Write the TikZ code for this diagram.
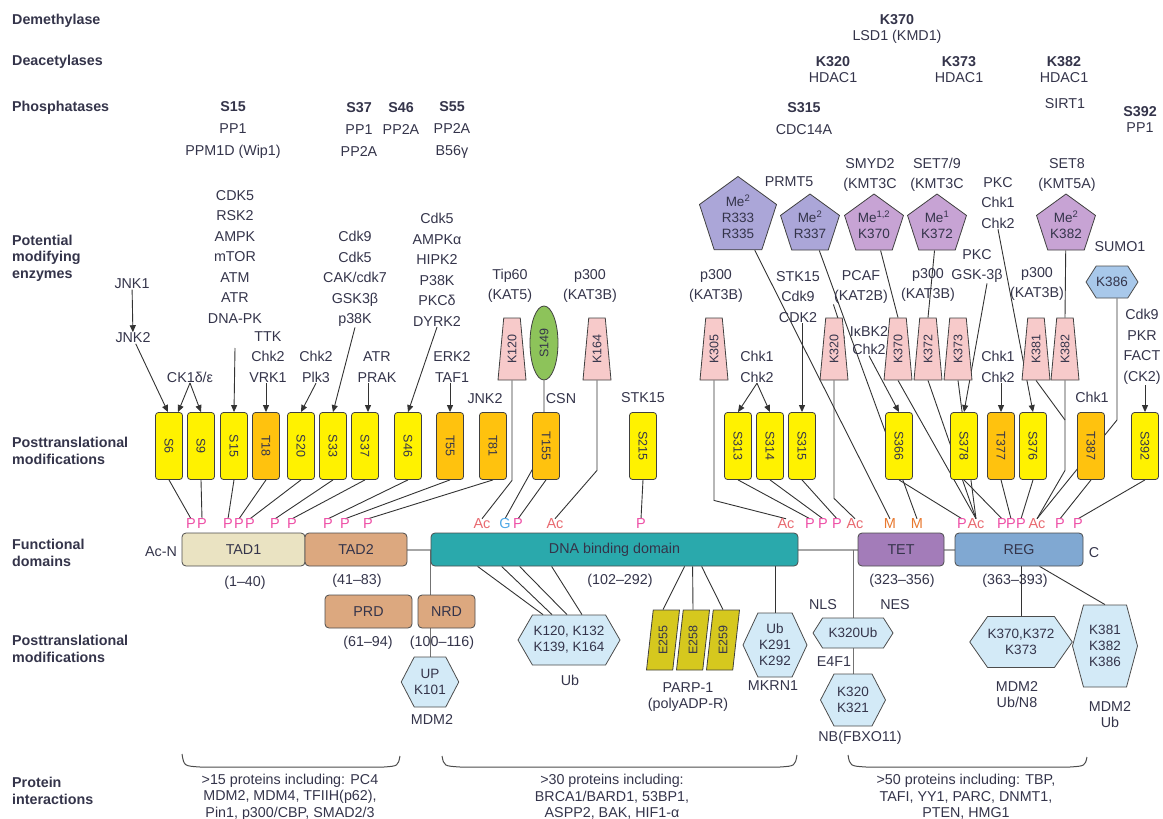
\documentclass[tikz,border=0pt]{standalone}
\usepackage{fontspec}
\setmainfont{Liberation Sans}
\usepackage{graphicx}
\usetikzlibrary{shapes.geometric,shapes.symbols,arrows.meta,backgrounds}
\definecolor{ink}{HTML}{34344A}
\definecolor{sitey}{HTML}{FFF200}
\definecolor{siteo}{HTML}{FFC20E}
\definecolor{acpink}{HTML}{F7CACA}
\definecolor{glcgreen}{HTML}{8DC35A}
\definecolor{hexblue}{HTML}{D3EAF7}
\definecolor{sumoblue}{HTML}{A8C8EA}
\definecolor{mer}{HTML}{ABA6D8}
\definecolor{mek}{HTML}{C7A3D4}
\definecolor{parpol}{HTML}{D6C81E}
\definecolor{pmag}{HTML}{EE4FA6}
\definecolor{acred}{HTML}{E86A70}
\definecolor{meor}{HTML}{E8782E}
\definecolor{glblue}{HTML}{4FA8E6}
\definecolor{tadone}{HTML}{EAE3C2}
\definecolor{tadtwo}{HTML}{DCA87F}
\definecolor{dbdteal}{HTML}{2AA9AC}
\definecolor{tetpur}{HTML}{A37CB9}
\definecolor{regblue}{HTML}{80A8D2}
\newcommand{\lblfont}{\fontsize{14.3}{16}\selectfont}
\newcommand{\stackfont}{\fontsize{14.3}{20.5}\selectfont}
\newcommand{\phfont}{\fontsize{14.3}{22}\selectfont}
\newcommand{\hdrfont}{\bfseries\fontsize{14.3}{16.5}\selectfont}
\newcommand{\sitefont}{\fontsize{12.5}{14}\selectfont}
\newcommand{\hexfont}{\fontsize{13.5}{16}\selectfont}

\begin{document}
\begin{tikzpicture}[x=1pt, y=-1pt,
    lbl/.style={font=\lblfont, text=ink, inner sep=0.5pt, align=center},
    stack/.style={lbl, font=\stackfont},
    ph/.style={lbl, font=\phfont},
    hdr/.style={font=\hdrfont, text=ink, anchor=west, align=left, inner sep=0pt},
    site/.style={rectangle, rounded corners=3pt, draw=black!75, line width=0.8pt, fill=sitey,
                 minimum width=27pt, minimum height=67pt, inner sep=0pt, font=\sitefont, text=ink},
    tsite/.style={site, fill=siteo},
    acsite/.style={trapezium, trapezium left angle=84, trapezium right angle=84, trapezium stretches=true,
                 draw=black!75, line width=0.8pt, fill=acpink, minimum width=28pt, minimum height=62pt,
                 inner sep=0pt, font=\sitefont, text=ink},
    parp/.style={trapezium, trapezium left angle=84, trapezium right angle=96, trapezium stretches=true,
                 draw=black!75, line width=0.8pt, fill=parpol, minimum width=33pt, minimum height=60pt,
                 inner sep=0pt, font=\sitefont, text=ink},
    mepent/.style={regular polygon, regular polygon sides=5, draw=black!75, line width=0.8pt, fill=mek,
                 minimum size=62pt, inner sep=0pt, align=center, font=\hexfont, text=ink},
    hexa/.style={signal, signal to=east and west, draw=black!70, line width=0.8pt, fill=hexblue,
                 inner sep=0pt, align=center, font=\hexfont, text=ink},
    dom/.style={rectangle, rounded corners=4pt, draw=black!70, line width=0.8pt, minimum height=33pt,
                 inner sep=0pt, font=\lblfont, text=ink},
    pmk/.style={font=\fontsize{14.5}{16}\selectfont, text=pmag, inner sep=0pt},
    acmk/.style={pmk, text=acred},
    memk/.style={pmk, text=meor},
    link/.style={draw=black!80, line width=0.9pt},
    act/.style={link, -{Triangle[length=7pt,width=6pt]}},
    brk/.style={draw=black!70, line width=1pt}
]
\useasboundingbox (0,0) rectangle (1163,819);

% row headers
\node[hdr] (hdm) at (12,21) {Demethylase};
\node[hdr] (hda) at (12,62) {Deacetylases};
\node[hdr] (hph) at (12,108) {Phosphatases};
\node[hdr] (hpm) at (12,258) {Potential\\modifying\\enzymes};
\node[hdr] (hpt1) at (12,451) {Posttranslational\\modifications};
\node[hdr] (hfd) at (12,553) {Functional\\domains};
\node[hdr] (hpt2) at (12,649) {Posttranslational\\modifications};
\node[hdr] (hpi) at (12,791) {Protein\\interactions};

% demethylase, deacetylases, phosphatases
\node[lbl] (dm370) at (897,29) {\textbf{K370}\\LSD1 (KMD1)};
\node[lbl] (da320) at (833,70) {\textbf{K320}\\HDAC1};
\node[lbl] (da373) at (959,70) {\textbf{K373}\\HDAC1};
\node[lbl] (da382) at (1064,70) {\textbf{K382}\\HDAC1};
\node[lbl] (da382b) at (1065,104) {SIRT1};
\node[ph] (ph15) at (233,130) {\textbf{S15}\\PP1\\PPM1D (Wip1)};
\node[ph] (ph37) at (359,130) {\textbf{S37}\\PP1\\PP2A};
\node[ph] (ph46) at (401,119) {\textbf{S46}\\PP2A};
\node[ph] (ph55) at (452,130) {\textbf{S55}\\PP2A\\B56γ};
\node[ph] (ph315) at (804,119) {\textbf{S315}\\CDC14A};
\node[lbl] (ph392) at (1140,120) {\textbf{S392}\\PP1};

% potential modifying enzymes
\node[stack] (e15) at (235,257) {CDK5\\RSK2\\AMPK\\mTOR\\ATM\\ATR\\DNA-PK};
\node[lbl] (ejnk1) at (132,284) {JNK1};
\node[lbl] (ejnk2) at (133,338) {JNK2};
\node[lbl] (eck1) at (190,377) {CK1δ/ε};
\node[stack] (e18) at (268,357) {TTK\\Chk2\\VRK1};
\node[stack] (e20) at (316,367) {Chk2\\Plk3};
\node[stack] (e33) at (355,279) {Cdk9\\Cdk5\\CAK/cdk7\\GSK3β\\p38K};
\node[stack] (e37) at (377,367) {ATR\\PRAK};
\node[stack] (e46) at (437,270) {Cdk5\\AMPKα\\HIPK2\\P38K\\PKCδ\\DYRK2};
\node[stack] (e55) at (452,367) {ERK2\\TAF1};
\node[lbl] (e81) at (485,399) {JNK2};
\node[stack] (e120) at (510,286) {Tip60\\(KAT5)};
\node[lbl] (e155) at (561,399) {CSN};
\node[stack] (e164) at (590,286) {p300\\(KAT3B)};
\node[lbl] (e215) at (643,398) {STK15};
\node[stack] (e305) at (716,286) {p300\\(KAT3B)};
\node[stack] (e313) at (757,367) {Chk1\\Chk2};
\node[stack] (e315) at (798,297) {STK15\\Cdk9\\CDK2};
\node[stack] (e320) at (861,287) {PCAF\\(KAT2B)};
\node[lbl, font=\fontsize{14.3}{18}\selectfont] (e366) at (869,341) {IκBK2\\Chk2};
\node[lbl] (eprmt) at (789,182) {PRMT5};
\node[stack] (esmyd) at (870,175) {SMYD2\\(KMT3C};
\node[stack] (eset79) at (937,175) {SET7/9\\(KMT3C};
\node[stack] (eset8) at (1067,175) {SET8\\(KMT5A)};
\node[stack] (epkc1) at (998,203) {PKC\\Chk1\\Chk2};
\node[stack] (epkc2) at (977,266) {PKC\\GSK-3β};
\node[stack] (e372) at (928,285) {p300\\(KAT3B)};
\node[stack] (e381) at (1037,284) {p300\\(KAT3B)};
\node[lbl] (esumo) at (1120,247) {SUMO1};
\node[stack] (e392) at (1142,347) {Cdk9\\PKR\\FACT\\(CK2)};
\node[lbl] (e387) at (1092,397) {Chk1};
\node[stack] (e377) at (998,367) {Chk1\\Chk2};

% methylation pentagons
\node[mepent, fill=mer, minimum size=81pt] (pR333) at (738,217) {Me\textsuperscript{2}\\R333\\R335};
\node[mepent, fill=mer] (pR337) at (810,225) {Me\textsuperscript{2}\\R337};
\node[mepent] (pK370) at (874,225) {Me\textsuperscript{1,2}\\K370};
\node[mepent] (pK372) at (937,225) {Me\textsuperscript{1}\\K372};
\node[mepent] (pK382) at (1066,225) {Me\textsuperscript{2}\\K382};
\node[hexa, fill=sumoblue, minimum width=45pt, minimum height=32pt, signal pointer angle=115] (hsumo) at (1112,282) {K386};

% acetylation sites
\node[acsite] (ak120) at (512,349) {\rotatebox{90}{K120}};
\node[ellipse, draw=black!75, line width=0.8pt, fill=glcgreen, minimum width=28pt, minimum height=74pt,
      inner sep=0pt, font=\sitefont, text=ink] (g149) at (544,343) {\rotatebox{90}{S149}};
\node[acsite] (ak164) at (597,349) {\rotatebox{90}{K164}};
\node[acsite] (ak305) at (714,349) {\rotatebox{90}{K305}};
\node[acsite] (ak320) at (834,349) {\rotatebox{90}{K320}};
\node[acsite] (ak370) at (898,349) {\rotatebox{90}{K370}};
\node[acsite] (ak372) at (928,349) {\rotatebox{90}{K372}};
\node[acsite] (ak373) at (958,349) {\rotatebox{90}{K373}};
\node[acsite] (ak381) at (1036,349) {\rotatebox{90}{K381}};
\node[acsite] (ak382) at (1065,349) {\rotatebox{90}{K382}};

% phosphorylation sites
\node[site] (s6) at (169,446) {\rotatebox{-90}{S6}};
\node[site] (s9) at (201,446) {\rotatebox{-90}{S9}};
\node[site] (s15) at (234,446) {\rotatebox{-90}{S15}};
\node[tsite] (t18) at (266,446) {\rotatebox{-90}{T18}};
\node[site] (s20) at (301,446) {\rotatebox{-90}{S20}};
\node[site] (s33) at (333,446) {\rotatebox{-90}{S33}};
\node[site] (s37) at (365,446) {\rotatebox{-90}{S37}};
\node[site] (s46) at (408,446) {\rotatebox{-90}{S46}};
\node[tsite] (t55) at (450,446) {\rotatebox{-90}{T55}};
\node[tsite] (t81) at (493,446) {\rotatebox{-90}{T81}};
\node[tsite] (t155) at (546,446) {\rotatebox{-90}{T155}};
\node[site] (s215) at (643,446) {\rotatebox{-90}{S215}};
\node[site] (s313) at (738,446) {\rotatebox{-90}{S313}};
\node[site] (s314) at (770,446) {\rotatebox{-90}{S314}};
\node[site] (s315) at (802,446) {\rotatebox{-90}{S315}};
\node[site] (s366) at (899,446) {\rotatebox{-90}{S366}};
\node[site] (s378) at (964,446) {\rotatebox{-90}{S378}};
\node[tsite] (t377) at (1001,446) {\rotatebox{-90}{T377}};
\node[site] (s376) at (1033,446) {\rotatebox{-90}{S376}};
\node[tsite] (t387) at (1091,446) {\rotatebox{-90}{T387}};
\node[site] (s392) at (1145,446) {\rotatebox{-90}{S392}};

% modification marks
\node[pmk] (mS6) at (191,524) {P};
\node[pmk] (mS9) at (202,524) {P};
\node[pmk] (mS15) at (228,524) {P};
\node[pmk] (mT18) at (239,524) {P};
\node[pmk] (mS20) at (250,524) {P};
\node[pmk] (mS33) at (275,524) {P};
\node[pmk] (mS37) at (292,524) {P};
\node[pmk] (mS46) at (328,524) {P};
\node[pmk] (mT55) at (345,524) {P};
\node[pmk] (mT81) at (368,524) {P};
\node[acmk] (aK120) at (482,524) {Ac};
\node[pmk, text=glblue] (gS149) at (505,524) {G};
\node[pmk] (mT155) at (518,524) {P};
\node[acmk] (aK164) at (555,524) {Ac};
\node[pmk] (mS215) at (641,524) {P};
\node[acmk] (aK305) at (786,524) {Ac};
\node[pmk] (mS313) at (810,524) {P};
\node[pmk] (mS314) at (823,524) {P};
\node[pmk] (mS315) at (837,524) {P};
\node[acmk] (aK320) at (855,524) {Ac};
\node[memk] (mR333) at (890,524) {M};
\node[memk] (mR337) at (917,524) {M};
\node[pmk] (mS366) at (962,524) {P};
\node[acmk] (aK37) at (976,524) {Ac};
\node[pmk] (mS378) at (1002,524) {P};
\node[pmk] (mT377) at (1011,524) {P};
\node[pmk] (mS376) at (1021,524) {P};
\node[acmk] (aK38) at (1037,524) {Ac};
\node[pmk] (mT387) at (1060,524) {P};
\node[pmk] (mS392) at (1078,524) {P};

% functional domains
\node[lbl] (nterm) at (161,552) {Ac-N};
\node[dom, fill=tadone, minimum width=123pt] (tad1) at (243.5,549.5) {TAD1};
\node[dom, fill=tadtwo, minimum width=102pt] (tad2) at (356,549.5) {TAD2};
\node[dom, fill=dbdteal, minimum width=367pt] (dbd) at (614.5,549.5) {DNA binding domain};
\node[dom, fill=tetpur, minimum width=86pt] (tet) at (901,549.5) {TET};
\node[dom, fill=regblue, minimum width=128pt] (reg) at (1019,549.5) {REG};
\node[lbl] (cterm) at (1094,553) {C};
\node[lbl] (r1) at (245,583) {(1--40)};
\node[lbl] (r2) at (357,581) {(41--83)};
\node[lbl] (r3) at (620,581) {(102--292)};
\node[lbl] (r4) at (902,581) {(323--356)};
\node[lbl] (r5) at (1015,581) {(363--393)};
\node[dom, fill=tadtwo, minimum width=87pt] (prd) at (368.5,611.5) {PRD};
\node[dom, fill=tadtwo, minimum width=57pt] (nrd) at (446.5,611.5) {NRD};
\node[lbl] (r6) at (368,643) {(61--94)};
\node[lbl] (r7) at (442,643) {(100--116)};

% lower modifications
\node[hexa, minimum width=53pt, minimum height=50pt, signal pointer angle=125] (hxup) at (430,682) {UP\\K101};
\node[lbl] (lup) at (432,720) {MDM2};
\node[hexa, minimum width=102pt, minimum height=50pt, signal pointer angle=120] (hx120) at (569,640) {K120, K132\\K139, K164};
\node[lbl] (l120) at (570,680) {Ub};
\node[parp] (pe255) at (663,640) {\rotatebox{90}{E255}};
\node[parp] (pe258) at (693,640) {\rotatebox{90}{E258}};
\node[parp] (pe259) at (723,640) {\rotatebox{90}{E259}};
\node[lbl] (lparp) at (688,697) {PARP-1\\(polyADP-R)};
\node[hexa, minimum width=64pt, minimum height=64pt, signal pointer angle=130] (hxub) at (775,645) {Ub\\K291\\K292};
\node[lbl] (lub) at (773,686) {MKRN1};
\node[lbl] (lnls) at (823,605) {NLS};
\node[lbl] (lnes) at (895,605) {NES};
\node[hexa, minimum width=80pt, minimum height=30pt, signal pointer angle=115] (hx320) at (853,633) {K320Ub};
\node[lbl] (le4f) at (834,662) {E4F1};
\node[hexa, minimum width=65pt, minimum height=52pt, signal pointer angle=125] (hx321) at (853,700) {K320\\K321};
\node[lbl] (lnb) at (860,738) {NB(FBXO11)};
\node[hexa, minimum width=102pt, minimum height=51pt, signal pointer angle=110] (hx37) at (1021,642) {K370,K372\\K373};
\node[lbl] (l37) at (1017,695) {MDM2\\Ub/N8};
\node[hexa, minimum width=65pt, minimum height=82pt, signal pointer angle=150] (hx38) at (1105,646) {K381\\K382\\K386};
\node[lbl] (l38) at (1110,715) {MDM2\\Ub};

% protein interactions
\node[lbl, font=\fontsize{14.3}{16.5}\selectfont] (pi1) at (290,797) {>15 proteins including: PC4\\MDM2, MDM4, TFIIH(p62),\\Pin1, p300/CBP, SMAD2/3};
\node[lbl, font=\fontsize{14.3}{16.5}\selectfont] (pi2) at (612,797) {>30 proteins including:\\BRCA1/BARD1, 53BP1,\\ASPP2, BAK, HIF1-α};
\node[lbl, font=\fontsize{14.3}{16.5}\selectfont] (pi3) at (966,797) {>50 proteins including: TBP,\\TAFI, YY1, PARC, DNMT1,\\PTEN, HMG1};

\begin{scope}[on background layer]
  % backbone
  \draw[line width=2pt, black!35] (tad1.west) -- (reg.east);
  \draw[link, black!55] (hxup.north |- tad2.east) -- (hxup.north);
  \draw[link, black!55] (hx320.north |- tet.west) -- (hx320.north);
  \draw[link, black!55] (hx320.south) -- (hx321.north);
  % enzymes to sites
  \draw[act] (ejnk1) -- (ejnk2);
  \draw[act] (ejnk2) -- ([xshift=-1pt]s6.north);
  \draw[act] (eck1.south) -- ([xshift=9pt]s6.north);
  \draw[act] (eck1.south) -- (s9.north);
  \coordinate (c15) at (235,348);
  \draw[act] (c15) -- (s15.north);
  \draw[act] (t18.north |- e18.south) -- (t18.north);
  \draw[act] (e20.south) -- (s20.north);
  \draw[act] (e33.south) -- (s33.north);
  \draw[act] ([xshift=3pt]s37.north |- e37.south) -- ([xshift=3pt]s37.north);
  \draw[act] (e46.south) -- (s46.north);
  \draw[act] (t55.north |- e55.south) -- (t55.north);
  \draw[act] (e313.south) -- (s313.north);
  \draw[act] (e313.south) -- (s314.north);
  \draw[act] (s315.north |- e315.south) -- (s315.north);
  \draw[act] (e366.south) -- (s366.north);
  \draw[act] ([xshift=10pt]epkc2.south) -- (s378.north);
  \draw[act] (epkc1.south) -- (s376.north);
  \draw[act] (t377.north |- e377.south) -- (t377.north);
  \draw[act] (s392.north |- e392.south) -- (s392.north);
  \draw[link] (e320.south west) -- (ak320.north east);
  % methylation
  \draw[link] (pR333) -- (mR333.north);
  \draw[link] (pR337) -- (mR337.north);
  \draw[link] (pK370) -- (ak370.north);
  \draw[link] (pK372) -- (ak372.north);
  \draw[link] (pK382) -- (ak382.north);
  % sites to marks
  \draw[link] (s6.south) -- (mS6.north);
  \draw[link] (s9.south) -- (mS9.north);
  \draw[link] (s15.south) -- (mS15.north);
  \draw[link] (t18.south) -- (mT18.north);
  \draw[link] (s20.south) -- (mS20.north);
  \draw[link] (s33.south) -- (mS33.north);
  \draw[link] (s37.south) -- (mS37.north);
  \draw[link] (s46.south) -- (mS46.north);
  \draw[link] (t55.south) -- (mT55.north);
  \draw[link] (t81.south) -- (mT81.north);
  \draw[link] (ak120.south) -- ++(0,100) -- (aK120.north);
  \draw[link] (g149.south) -- ++(0,68) -- (gS149.north);
  \draw[link] (t155.south) -- (mT155.north);
  \draw[link] (ak164.south) -- ++(0,90) -- (aK164.north);
  \draw[link] (s215.south) -- (mS215.north);
  \draw[link] (ak305.south) -- ++(0,120) -- (aK305.north);
  \draw[link] (s313.south) -- (mS313.north);
  \draw[link] (s314.south) -- (mS314.north);
  \draw[link] (s315.south) -- (mS315.north);
  \draw[link] (ak320.south) -- ++(0,118) -- (aK320.north);
  \draw[link] (s366.south) -- (mS366.north);
  \draw[link] (ak370.south) -- (aK37.north);
  \draw[link] (ak372.south) -- (aK37.north);
  \draw[link] (ak373.south) -- (aK37.north);
  \draw[link] (s378.south) -- (mS378.north);
  \draw[link] (t377.south) -- (mT377.north);
  \draw[link] (s376.south) -- (mS376.north);
  \coordinate (c382) at (1065,420);
  \draw[link] (ak381.south) -- (c382);
  \draw[link] (ak382.south) -- ++(0,90) -- (aK38.north);
  \coordinate (c386) at (1117,420);
  \draw[link] ([xshift=5pt]hsumo.south) -- (c386) -- (aK38.north);
  \draw[link] (t387.south) -- (mT387.north);
  \draw[link] (s392.south) -- (mS392.north);
  % lower modifications
  \draw[link] ([xshift=47pt]dbd.south west) -- ([xshift=-26pt]hx120.north);
  \draw[link] ([xshift=71pt]dbd.south west) -- ([xshift=-17pt]hx120.north);
  \draw[link] ([xshift=89pt]dbd.south west) -- ([xshift=-2pt]hx120.north);
  \draw[link] ([xshift=121pt]dbd.south west) -- ([xshift=13pt]hx120.north);
  \draw[link] ([xshift=254pt]dbd.south west) -- (pe255.north);
  \draw[link] ([xshift=262pt]dbd.south west) -- (pe258.north);
  \draw[link] ([xshift=271pt]dbd.south west) -- (pe259.north);
  \draw[link] (hxub.north |- dbd.south) -- (hxub.north);
  \draw[link] (hx37.north |- reg.south) -- (hx37.north);
  \draw[link] ([xshift=85pt]reg.south west) -- (hx38.north);
\end{scope}

% brackets
\draw[brk] (182,754) .. controls (184,766) .. (200,767) -- (384,767) .. controls (398,766) .. (400,756);
\draw[brk] (442,756) .. controls (444,766) .. (460,767) -- (780,767) .. controls (795,766) .. (797,755);
\draw[brk] (848,755) .. controls (850,766) .. (866,767) -- (1070,767) .. controls (1085,766) .. (1087,757);
\end{tikzpicture}
\end{document}
